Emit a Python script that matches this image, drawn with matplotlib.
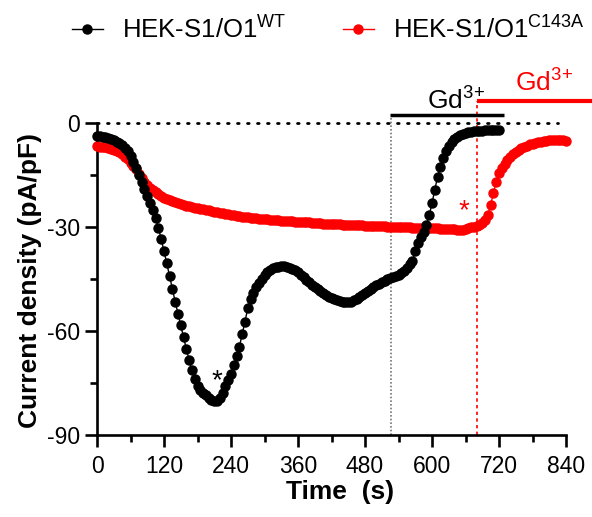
import numpy as np
import matplotlib
matplotlib.use("Agg")
import matplotlib.pyplot as plt
from matplotlib.ticker import MultipleLocator

plt.rcParams['font.family'] = ['Liberation Sans', 'DejaVu Sans']
plt.rcParams['mathtext.fontset'] = 'custom'
plt.rcParams['mathtext.rm'] = 'Liberation Sans'
plt.rcParams['mathtext.it'] = 'Liberation Sans'
plt.rcParams['mathtext.bf'] = 'Liberation Sans:bold'
plt.rcParams['axes.unicode_minus'] = False

# ---- data ----
time_wt = np.arange(0, 721, 5)
current_wt = [
    -3.7, -3.8, -3.9, -4.1, -4.4, -4.7, -5.0, -5.4, -5.8, -6.4,
    -7.2, -8.2, -9.5, -11.2, -13.1, -15.1, -17.0, -19.0, -21.0, -23.0,
    -25.0, -27.3, -30.2, -33.5, -37.0, -40.5, -44.2, -47.9, -51.5, -55.0,
    -58.4, -61.8, -65.2, -68.4, -71.3, -73.9, -75.8, -77.0, -77.8, -78.6,
    -79.3, -79.9, -80.3, -80.3, -79.3, -77.8, -76.0, -74.2, -72.3, -69.8,
    -67.3, -64.5, -61.0, -57.3, -53.5, -50.8, -48.9, -47.4, -46.1, -44.9,
    -43.9, -43.1, -42.4, -41.9, -41.6, -41.4, -41.3, -41.3, -41.4, -41.7,
    -42.0, -42.5, -43.1, -43.8, -44.5, -45.2, -45.9, -46.6, -47.3, -47.9,
    -48.5, -49.1, -49.7, -50.2, -50.6, -50.9, -51.2, -51.4, -51.5, -51.6,
    -51.6, -51.5, -51.2, -50.8, -50.2, -49.6, -49.0, -48.4, -47.9, -47.3,
    -46.8, -46.3, -45.9, -45.5, -45.1, -44.8, -44.5, -44.2, -43.8, -43.3,
    -42.7, -41.9, -40.8, -39.8, -37.0, -34.5, -32.8, -31.3, -29.4, -26.6,
    -23.2, -19.2, -15.6, -12.6, -10.0, -8.1, -6.6, -5.6, -4.7, -4.0,
    -3.5, -3.2, -2.9, -2.7, -2.5, -2.4, -2.3, -2.2, -2.2, -2.1,
    -2.1, -2.0, -2.0, -2.0, -2.0,
]
time_mut = np.arange(0, 841, 5)
current_mut = [
    -6.7, -6.8, -6.9, -7.0, -7.2, -7.4, -7.7, -8.0, -8.4, -9.0,
    -9.7, -10.5, -11.4, -12.3, -13.4, -14.6, -15.8, -16.9, -17.9, -18.7,
    -19.4, -20.0, -20.6, -21.1, -21.5, -21.9, -22.2, -22.5, -22.8, -23.1,
    -23.3, -23.6, -23.8, -24.0, -24.2, -24.4, -24.6, -24.8, -24.9, -25.1,
    -25.2, -25.4, -25.6, -25.7, -25.9, -26.0, -26.2, -26.3, -26.5, -26.6,
    -26.7, -26.9, -27.0, -27.1, -27.2, -27.3, -27.4, -27.5, -27.6, -27.6,
    -27.7, -27.8, -27.9, -28.0, -28.0, -28.1, -28.2, -28.2, -28.3, -28.4,
    -28.4, -28.5, -28.5, -28.6, -28.6, -28.7, -28.7, -28.8, -28.8, -28.9,
    -28.9, -29.0, -29.0, -29.1, -29.1, -29.1, -29.2, -29.2, -29.3, -29.3,
    -29.3, -29.4, -29.4, -29.5, -29.5, -29.5, -29.6, -29.6, -29.7, -29.7,
    -29.7, -29.8, -29.8, -29.8, -29.9, -29.9, -29.9, -30.0, -30.0, -30.0,
    -30.1, -30.1, -30.1, -30.2, -30.2, -30.2, -30.3, -30.3, -30.3, -30.4,
    -30.4, -30.4, -30.4, -30.5, -30.5, -30.5, -30.6, -30.6, -30.7, -30.8,
    -30.9, -30.9, -30.7, -30.3, -29.9, -29.9, -29.7, -29.4, -28.9, -28.0,
    -26.6, -23.6, -20.2, -16.9, -14.5, -12.9, -11.7, -10.6, -9.7, -9.0,
    -8.3, -7.7, -7.2, -6.8, -6.5, -6.2, -6.0, -5.8, -5.6, -5.4,
    -5.2, -5.1, -4.9, -4.9, -4.8, -4.8, -4.9, -5.0, -5.1,
]
label_wt = "HEK-S1/O1$^{\\mathrm{WT}}$"
label_mut = "HEK-S1/O1$^{\\mathrm{C143A}}$"
gd_label = "Gd$^{3\\!+}$"
x_ticks = [0, 120, 240, 360, 480, 600, 720, 840]
y_ticks = [0, -30, -60, -90]
gd_wt_span = (525, 729)
gd_mut_span = (681, 890)
gd_wt_time = 526
gd_mut_time = 681

# ---- figure ----
fig = plt.figure(figsize=(5.92, 5.17), dpi=100)
ax = fig.add_axes([97 / 592, 1 - 435 / 517, 469 / 592, (435 - 112.6) / 517])

ax.plot(time_wt, current_wt, '-', color='black', marker='o', markersize=6.5,
        lw=1, label=label_wt, zorder=4, clip_on=False)
ax.plot(time_mut, current_mut, '-', color='red', marker='o', markersize=6.5,
        lw=1, label=label_mut, zorder=3, clip_on=False)

# zero line
ax.plot([0, 825], [0, 0], color='black', lw=2, linestyle=(0, (0.6, 3.0)),
        dash_capstyle='round', zorder=2)

# vertical markers
ax.plot([gd_wt_time, gd_wt_time], [-90, 1.5], color='#777777', lw=1.2,
        linestyle=(0, (1, 1.2)), zorder=1, clip_on=False)
ax.plot([gd_mut_time, gd_mut_time], [-90, 6.3], color='red', lw=1.2,
        linestyle=(0, (2, 2)), zorder=1, clip_on=False)

# Gd3+ bars
ax.plot(gd_wt_span, [2.4, 2.4], color='black', lw=2.5, clip_on=False,
        solid_capstyle='butt')
ax.plot(gd_mut_span, [6.3, 6.3], color='red', lw=3, clip_on=False,
        solid_capstyle='butt')
ax.text(643, 2.5, gd_label, ha='center', va='bottom', fontsize=19,
        color='black')
ax.text(800, 7.5, gd_label, ha='center', va='bottom', fontsize=19,
        color='red', clip_on=False)

# asterisks
ax.text(214, -74.5, "*", ha='center', va='center', fontsize=20, color='black')
ax.text(657, -25.5, "*", ha='center', va='center', fontsize=20, color='red')

# spines & ticks
for s in ['top', 'right']:
    ax.spines[s].set_visible(False)
ax.spines['left'].set_linewidth(1.9)
ax.spines['bottom'].set_linewidth(1.9)
ax.spines['left'].set_bounds(-90, 0)
ax.spines['bottom'].set_bounds(0, 840)

ax.set_xticks(x_ticks)
ax.set_yticks(y_ticks)
ax.xaxis.set_minor_locator(MultipleLocator(60))
ax.yaxis.set_minor_locator(MultipleLocator(15))
ax.tick_params(which='major', length=8.5, width=1.9, labelsize=16.5)
ax.tick_params(axis='x', which='major', pad=6)
ax.tick_params(axis='y', which='major', pad=3.5)
ax.tick_params(which='minor', length=5, width=1.9)
ax.set_xlim(0, 840)
ax.set_ylim(-90, 3)

ax.set_xlabel("Time  (s)", fontsize=19, fontweight='bold')
ax.set_ylabel("Current density (pA/pF)", fontsize=19, fontweight='bold')
ax.xaxis.set_label_coords((340 - 97) / 469, -(492 - 435) / 322.4)
ax.yaxis.set_label_coords(-(97 - 30) / 469, (435 - 280) / 322.4)
ax.xaxis.label.set_va('center')
ax.yaxis.label.set_va('center')

fig.legend(loc='upper left', bbox_to_anchor=(72 / 592, 1 - 16 / 517), ncol=2,
           frameon=False, fontsize=18.5, handlelength=1.2, columnspacing=2.2,
           handletextpad=0.75, markerscale=1.0, borderaxespad=0, borderpad=0)

fig.savefig("out.png", dpi=100)
